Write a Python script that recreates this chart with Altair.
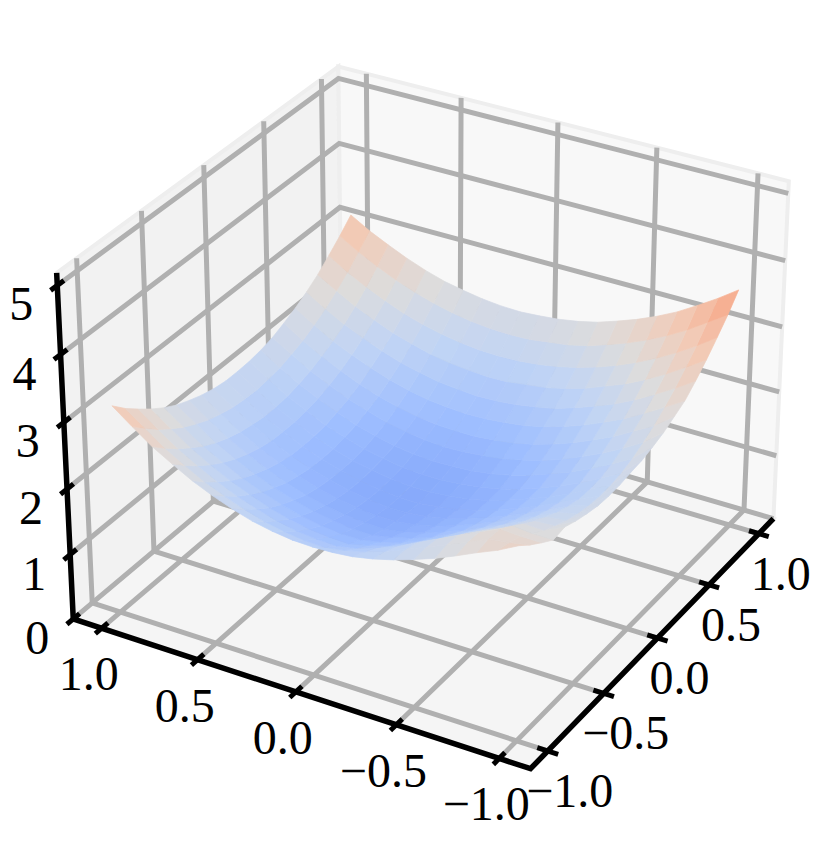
import numpy as np
import pandas as pd
import altair as alt

alt.data_transformers.disable_max_rows()

# ---- values ----
Z_TICKS = [0, 1, 2, 3, 4, 5]
XY_TICKS = [-1.0, -0.5, 0.0, 0.5, 1.0]
XY_LABELS = ["\u22121.0", "\u22120.5", "0.0", "0.5", "1.0"]
GRID_COORDS = [-1.0, -0.9, -0.8, -0.7, -0.6, -0.5, -0.4, -0.3, -0.2, -0.1, 0.0,
               0.1, 0.2, 0.3, 0.4, 0.5, 0.6, 0.7, 0.8, 0.9, 1.0]
Z = [
    [2.90, 2.74, 2.61, 2.47, 2.34, 2.23, 2.13, 2.05, 1.99, 1.96, 1.95, 1.96, 2.00, 2.06, 2.15, 2.26, 2.39, 2.55, 2.72, 2.93, 3.15],
    [2.75, 2.69, 2.65, 2.51, 2.38, 2.25, 2.12, 2.00, 1.90, 1.83, 1.78, 1.79, 1.83, 1.89, 1.98, 2.09, 2.21, 2.37, 2.54, 2.75, 2.96],
    [2.62, 2.62, 2.64, 2.50, 2.37, 2.22, 2.07, 1.92, 1.80, 1.70, 1.64, 1.65, 1.68, 1.74, 1.83, 1.93, 2.06, 2.21, 2.38, 2.58, 2.80],
    [2.50, 2.50, 2.53, 2.38, 2.25, 2.10, 1.95, 1.80, 1.67, 1.58, 1.51, 1.52, 1.55, 1.61, 1.69, 1.80, 1.92, 2.07, 2.24, 2.44, 2.65],
    [2.53, 2.39, 2.40, 2.25, 2.12, 1.97, 1.82, 1.68, 1.55, 1.47, 1.41, 1.41, 1.44, 1.50, 1.58, 1.68, 1.80, 1.95, 2.11, 2.31, 2.52],
    [2.46, 2.30, 2.28, 2.13, 2.00, 1.86, 1.72, 1.57, 1.46, 1.38, 1.32, 1.32, 1.36, 1.41, 1.49, 1.59, 1.71, 1.85, 2.01, 2.21, 2.41],
    [2.41, 2.22, 2.18, 2.03, 1.89, 1.75, 1.61, 1.49, 1.38, 1.30, 1.25, 1.26, 1.29, 1.34, 1.41, 1.51, 1.63, 1.77, 1.93, 2.12, 2.33],
    [2.37, 2.16, 2.09, 1.94, 1.80, 1.67, 1.54, 1.42, 1.32, 1.25, 1.21, 1.21, 1.24, 1.29, 1.36, 1.46, 1.57, 1.71, 1.87, 2.06, 2.26],
    [2.36, 2.12, 2.02, 1.87, 1.73, 1.60, 1.48, 1.37, 1.28, 1.22, 1.18, 1.18, 1.21, 1.26, 1.33, 1.42, 1.53, 1.67, 1.83, 2.01, 2.21],
    [2.37, 2.10, 1.97, 1.82, 1.68, 1.55, 1.44, 1.34, 1.26, 1.21, 1.17, 1.17, 1.20, 1.25, 1.32, 1.41, 1.52, 1.66, 1.80, 1.99, 2.18],
    [2.40, 2.11, 1.96, 1.80, 1.66, 1.54, 1.43, 1.33, 1.26, 1.22, 1.19, 1.19, 1.21, 1.26, 1.32, 1.41, 1.52, 1.66, 1.80, 1.98, 2.18],
    [2.42, 2.14, 1.97, 1.81, 1.67, 1.55, 1.44, 1.35, 1.29, 1.25, 1.22, 1.22, 1.24, 1.29, 1.35, 1.44, 1.54, 1.68, 1.82, 2.00, 2.19],
    [2.47, 2.20, 2.03, 1.87, 1.73, 1.61, 1.50, 1.41, 1.34, 1.30, 1.28, 1.27, 1.29, 1.33, 1.40, 1.48, 1.59, 1.72, 1.86, 2.03, 2.22],
    [2.53, 2.29, 2.11, 1.95, 1.81, 1.68, 1.57, 1.49, 1.42, 1.38, 1.35, 1.34, 1.36, 1.40, 1.46, 1.55, 1.65, 1.78, 1.92, 2.09, 2.27],
    [2.62, 2.39, 2.22, 2.05, 1.91, 1.78, 1.67, 1.58, 1.51, 1.47, 1.44, 1.44, 1.45, 1.49, 1.55, 1.63, 1.73, 1.86, 2.00, 2.16, 2.35],
    [2.71, 2.52, 2.34, 2.17, 2.03, 1.90, 1.79, 1.70, 1.63, 1.59, 1.56, 1.55, 1.57, 1.60, 1.66, 1.74, 1.84, 1.96, 2.09, 2.26, 2.44],
    [2.86, 2.66, 2.48, 2.31, 2.16, 2.04, 1.93, 1.83, 1.77, 1.72, 1.69, 1.68, 1.70, 1.73, 1.79, 1.86, 1.96, 2.08, 2.21, 2.37, 2.55],
    [3.03, 2.83, 2.64, 2.47, 2.32, 2.20, 2.08, 1.99, 1.92, 1.88, 1.84, 1.83, 1.85, 1.88, 1.93, 2.01, 2.10, 2.22, 2.35, 2.51, 2.68],
    [3.22, 3.01, 2.82, 2.65, 2.50, 2.37, 2.26, 2.17, 2.10, 2.05, 2.02, 2.01, 2.02, 2.05, 2.10, 2.17, 2.26, 2.38, 2.51, 2.66, 2.84],
    [3.42, 3.22, 3.02, 2.85, 2.70, 2.57, 2.46, 2.36, 2.29, 2.25, 2.21, 2.20, 2.21, 2.24, 2.29, 2.36, 2.45, 2.56, 2.69, 2.84, 3.01],
    [3.65, 3.44, 3.25, 3.07, 2.92, 2.79, 2.68, 2.58, 2.51, 2.46, 2.43, 2.41, 2.42, 2.45, 2.50, 2.56, 2.65, 2.76, 2.89, 3.03, 3.20],
]
COOLWARM = ["#3b4cc0", "#5977e3", "#7b9ff9", "#9ebeff", "#c0d4f5", "#dddcdc",
            "#f2cbb7", "#f7ac8e", "#ee8468", "#d65244", "#b40426"]
COOLWARM_STOPS = [0.0, 0.5, 1.0, 1.5, 2.0, 2.5, 3.0, 3.5, 4.0, 4.5, 5.0]

# ---- camera: box limits and view ----
L = 1.15
ZT = 5.18
ELEV, AZIM = np.radians(30), np.radians(-150)
BX, BZ = 1.19, 0.893
DIST = 10.0
fwd = -np.array([np.cos(ELEV) * np.cos(AZIM), np.cos(ELEV) * np.sin(AZIM), np.sin(ELEV)])
eye = -DIST * fwd
right = np.cross(fwd, [0, 0, 1.0])
right /= np.linalg.norm(right)
up = np.cross(right, fwd)


def project(x, y, z):
    p = np.array([x / (2 * L) * BX, y / (2 * L) * BX, z / ZT * BZ - BZ / 2]) - eye
    d = p @ fwd
    return (p @ right) / d, (p @ up) / d, d


# box corners and where they sit in the reference, to set the scale domains
BOX_ANCHORS = [(-L, -L, 0, 530, 770), (-L, L, 0, 72, 618), (L, -L, 0, 775, 517),
               (-L, L, ZT, 57, 273), (L, L, ZT, 340, 65), (L, -L, ZT, 787, 184)]
us, vs, pxs, pys = [], [], [], []
for ax_, ay_, az_, px_, py_ in BOX_ANCHORS:
    u_, v_, _ = project(ax_, ay_, az_)
    us.append(u_); vs.append(v_); pxs.append(px_); pys.append(py_)
a, b = np.polyfit(us, pxs, 1)
c, d0 = np.polyfit(vs, pys, 1)
W, H = 816, 825
x_dom = [(8 - b) / a, (8 + W - b) / a]
y_dom = [(8 + H - d0) / c, (8 - d0) / c]
xs = alt.Scale(domain=x_dom, nice=False, zero=False)
ys = alt.Scale(domain=y_dom, nice=False, zero=False)
X = alt.X("u:Q", scale=xs, axis=None)
Y = alt.Y("v:Q", scale=ys, axis=None)


def paths(items):
    rows = []
    for name, pts in items:
        for k, pt in enumerate(pts):
            u, v, _ = project(*pt)
            rows.append({"g": name, "k": k, "u": u, "v": v})
    return pd.DataFrame(rows)


# panes
panes = [
    ("#f5f5f5", [(-L, -L, 0), (L, -L, 0), (L, L, 0), (-L, L, 0), (-L, -L, 0)]),
    ("#f2f2f2", [(-L, L, 0), (L, L, 0), (L, L, ZT), (-L, L, ZT), (-L, L, 0)]),
    ("#f8f8f8", [(L, L, 0), (L, -L, 0), (L, -L, ZT), (L, L, ZT), (L, L, 0)]),
]
pane_df = paths(panes)
pane_layer = alt.Chart(pane_df).mark_line(stroke="#eeeeee", strokeWidth=4, strokeJoin="miter").encode(
    x=X, y=Y, order="k:Q", detail="g:N", fill=alt.Fill("g:N", scale=None))

# grid
grid = []
for t in XY_TICKS:
    grid.append((f"x{t}", [(t, -L, 0), (t, L, 0), (t, L, ZT)]))
    grid.append((f"y{t}", [(-L, t, 0), (L, t, 0), (L, t, ZT)]))
for t in Z_TICKS:
    grid.append((f"z{t}", [(-L, L, t), (L, L, t), (L, -L, t)]))
grid_layer = alt.Chart(paths(grid)).mark_line(stroke="#b0b0b0", strokeWidth=5, strokeJoin="miter").encode(
    x=X, y=Y, order="k:Q", detail="g:N")

# surface
cells = []
n = len(GRID_COORDS)
for i in range(n - 1):
    for j in range(n - 1):
        corners = [(i, j), (i + 1, j), (i + 1, j + 1), (i, j + 1), (i, j)]
        pts = [(GRID_COORDS[p], GRID_COORDS[q], Z[p][q]) for p, q in corners]
        depth = np.mean([project(*pt)[2] for pt in pts[:4]])
        zm = np.mean([pt[2] for pt in pts[:4]])
        cells.append((depth, zm, pts))
cells.sort(key=lambda t: t[0])
rows = []
for idx, (_, zm, pts) in enumerate(cells):
    for k, pt in enumerate(pts):
        u, v, _ = project(*pt)
        rows.append({"g": idx, "k": k, "u": u, "v": v, "zm": round(float(zm), 3)})
surf_df = pd.DataFrame(rows)
cscale = alt.Scale(domain=COOLWARM_STOPS, range=COOLWARM, interpolate="rgb")
surf_layer = alt.Chart(surf_df).mark_line(strokeWidth=0.7, strokeJoin="round").encode(
    x=X, y=Y, order="k:Q", detail="g:Q",
    fill=alt.Fill("zm:Q", scale=cscale, legend=None),
    stroke=alt.Stroke("zm:Q", scale=cscale, legend=None))

# axis lines
axis_lines = [
    ("l", [(-L, L, ZT), (-L, L, 0), (-L, -L, 0), (L, -L, 0)]),
]
axis_layer = alt.Chart(paths(axis_lines)).mark_line(stroke="black", strokeWidth=5.5, strokeJoin="miter").encode(
    x=X, y=Y, order="k:Q", detail="g:N")

T = 0.05
ticks = []
for t in XY_TICKS:
    ticks.append((f"x{t}", [(t, -L - T, 0), (t, -L + T, 0)]))
    ticks.append((f"y{t}", [(-L - T, t, 0), (-L + T, t, 0)]))
for t in Z_TICKS:
    ticks.append((f"z{t}", [(-L - T, L, t), (-L + T, L, t)]))
tick_layer = alt.Chart(paths(ticks)).mark_line(stroke="black", strokeWidth=5).encode(
    x=X, y=Y, order="k:Q", detail="g:N")


def labels(rows_, dx, dy):
    df = pd.DataFrame(rows_, columns=["u", "v", "t"])
    return alt.Chart(df).mark_text(font="Liberation Serif", fontSize=48, color="black",
                                   align="center", baseline="middle", dx=dx, dy=dy).encode(
        x=X, y=Y, text="t:N")


x_rows = [(*project(t, -L, 0)[:2], s) for t, s in zip(XY_TICKS, XY_LABELS)]
y_rows = [(*project(-L, t, 0)[:2], s) for t, s in zip(XY_TICKS, XY_LABELS)]
z_rows = [(*project(-L, L, t)[:2], str(t)) for t in Z_TICKS]

chart = alt.layer(
    pane_layer, grid_layer, surf_layer, axis_layer, tick_layer,
    labels(x_rows, 22, 42), labels(y_rows, -13, 48), labels(z_rows, -36, 21),
).resolve_scale(fill="independent").properties(
    width=W, height=H, padding=0, background="white",
).configure_view(stroke=None)

chart.save("out.html", embed_options={"renderer": "svg", "actions": False})
